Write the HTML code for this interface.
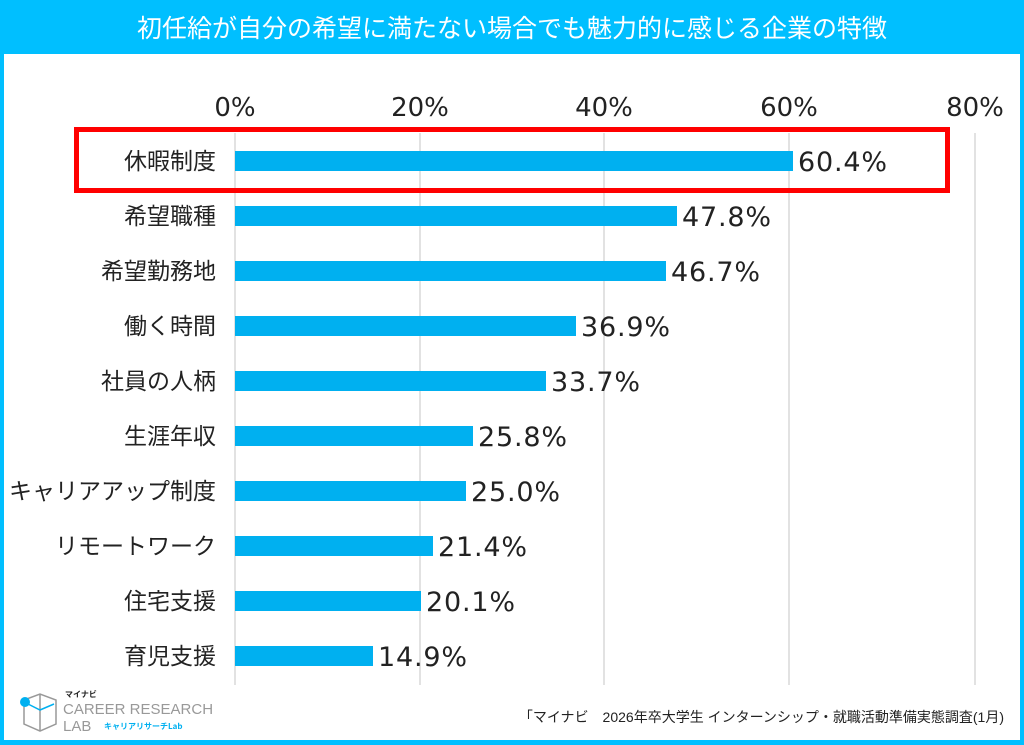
<!DOCTYPE html><html><head><meta charset="utf-8"><style>body{margin:0;background:#fff}svg{display:block}text{font-family:"DejaVu Sans","Noto Sans CJK JP",sans-serif}</style></head><body>
<svg width="1024" height="745" viewBox="0 0 1024 745" xmlns="http://www.w3.org/2000/svg">
<rect x="0" y="0" width="1024" height="745" fill="#00BFFF"/>
<rect x="4" y="54" width="1016" height="686" fill="#fff"/>
<text x="512" y="37" text-anchor="middle" font-size="25" fill="#fff" style="font-family:'Noto Sans CJK JP',sans-serif">初任給が自分の希望に満たない場合でも魅力的に感じる企業の特徴</text>
<g stroke="#d9d9d9" stroke-width="1.5">
<line x1="235" y1="133" x2="235" y2="685"/><line x1="420" y1="133" x2="420" y2="685"/><line x1="604" y1="133" x2="604" y2="685"/><line x1="789" y1="133" x2="789" y2="685"/><line x1="975" y1="133" x2="975" y2="685"/>
</g>
<g font-size="26" fill="#222" text-anchor="middle">
<text x="235" y="116">0%</text><text x="420" y="116">20%</text><text x="604" y="116">40%</text><text x="789" y="116">60%</text><text x="975" y="116">80%</text>
</g>
<rect x="76.5" y="129.5" width="871" height="61" fill="none" stroke="#FF0000" stroke-width="5"/>
<g fill="#00B0F0">
<rect x="235" y="151" width="558" height="20"/>
<rect x="235" y="206" width="442" height="20"/>
<rect x="235" y="261" width="431" height="20"/>
<rect x="235" y="316" width="341" height="20"/>
<rect x="235" y="371" width="311" height="20"/>
<rect x="235" y="426" width="238" height="20"/>
<rect x="235" y="481" width="231" height="20"/>
<rect x="235" y="536" width="198" height="20"/>
<rect x="235" y="591" width="186" height="20"/>
<rect x="235" y="646" width="138" height="20"/>
</g>
<g font-size="27" fill="#222" letter-spacing="0.8">
<text x="798" y="171">60.4%</text><text x="682" y="226">47.8%</text><text x="671" y="281">46.7%</text><text x="581" y="336">36.9%</text><text x="551" y="391">33.7%</text><text x="478" y="446">25.8%</text><text x="471" y="501">25.0%</text><text x="438" y="556">21.4%</text><text x="426" y="611">20.1%</text><text x="378" y="666">14.9%</text>
</g>
<g font-size="23" fill="#222" text-anchor="end" style="font-family:'Noto Sans CJK JP',sans-serif">
<text x="216" y="169">休暇制度</text><text x="216" y="224">希望職種</text><text x="216" y="279">希望勤務地</text><text x="216" y="334">働く時間</text><text x="216" y="389">社員の人柄</text><text x="216" y="444">生涯年収</text><text x="216" y="499">キャリアアップ制度</text><text x="216" y="554">リモートワーク</text><text x="216" y="609">住宅支援</text><text x="216" y="664">育児支援</text>
</g>
<text x="1004" y="722" text-anchor="end" font-size="14" fill="#222" style="font-family:'Liberation Sans','Noto Sans CJK JP',sans-serif">「マイナビ　2026年卒大学生 インターンシップ・就職活動準備実態調査(1月)</text>
<g stroke="#999" stroke-width="1.5" fill="none"><path d="M24 700 L40 694 L56 700 L56 724 L40 731 L24 724 Z M40 694 L40 731"/></g>
<path d="M28 704 L40 710 L54 704" stroke="#00B0F0" stroke-width="1.5" fill="none"/>
<circle cx="25" cy="702" r="5" fill="#00B0F0"/>
<text x="65" y="697" font-size="8" font-weight="bold" fill="#222" style="font-family:'Noto Sans CJK JP',sans-serif">マイナビ</text>
<text x="63" y="714" font-size="15" fill="#999" style="font-family:'Liberation Sans',sans-serif">CAREER RESEARCH</text>
<text x="63" y="731" font-size="15" fill="#999" style="font-family:'Liberation Sans',sans-serif">LAB</text>
<text x="104" y="729" font-size="8" font-weight="bold" fill="#00B0F0" style="font-family:'Noto Sans CJK JP',sans-serif">キャリアリサーチLab</text>
</svg></body></html>
